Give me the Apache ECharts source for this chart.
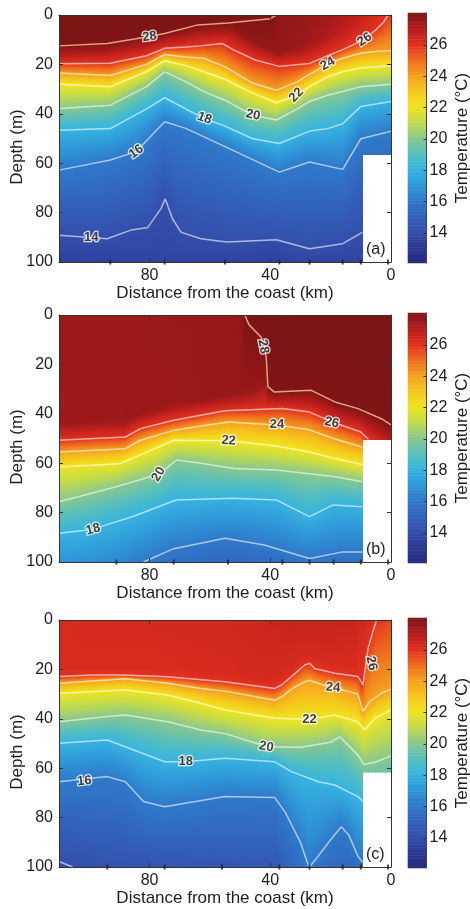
<!DOCTYPE html>
<html><head><meta charset="utf-8">
<script src="https://cdn.jsdelivr.net/npm/echarts@6/dist/echarts.min.js"></script>
<style>html,body{margin:0;padding:0;background:#fff}#c{width:470px;height:909px}</style>
</head><body><div id="c"></div>
<script>
// ================= DATA =================
const kmTicks = [0, 40, 80];
const depthTicksInterval = 20;
const colorbarTicks = [14, 16, 18, 20, 22, 24, 26];
const tempMin = 12.07, tempMax = 28.03;
const panelLetters = ['(a)', '(b)', '(c)'];

// ---- panel (a): isotherm depth profiles [distance km, depth m]
const iso28A = [[110,12.5],[94,11.5],[81,8.9],[75,7.5],[64,4],[54,3.2],[40,1.5],[38,0]];
const iso26A = [[110,19.7],[93,19.5],[81,16.5],[75,13.5],[68,13],[63,12.5],[56,11.5],[52,14.2],[45,18.2],[37,20.8],[27,19.6],[21,16.5],[16,14],[9,10],[5,6],[2.5,3],[1,0]];
const iso24A = [[110,23.5],[93,24.5],[81,20],[75,16],[68,17],[62,17.5],[55,21],[46,27.5],[38,30.5],[31,27],[27,24],[21,19.8],[16,17.5],[10,15.5],[5,14.8],[0,14.5]];
const iso22A = [[110,28],[93,29],[81,23],[75,18.5],[68,20.5],[62,23],[55,26],[46,31.5],[38,35.5],[31,32.5],[27,29],[21,25],[16,23],[10,21.5],[0,20.5]];
const iso20A = [[110,37.9],[93,36.5],[81,29],[75,23],[68,27],[62,31],[55,34.5],[46,40.5],[38,42.5],[31,38],[27,35],[21,32.5],[16,31],[10,29],[0,28]];
const iso18A = [[110,46.7],[93,46],[81,38],[75,33.5],[68,38],[62,41.8],[55,45],[46,50],[37,52],[27,47],[21,46],[16,44],[10,37],[0,35]];
const iso16A = [[110,62.8],[93,58.7],[84.4,55.3],[75,43.2],[68,45.9],[55,53.3],[37,63.6],[27,59.5],[16,62.5],[10,50.1],[1,47.4],[0,47]];
const iso14A = [[110,89.2],[94,90.6],[86,87],[80.6,86],[76.2,78.4],[74.8,74.4],[72.4,82.5],[69.6,87.9],[63,90.6],[54.4,91.9],[38,91],[27,94.6],[16,92.6],[9.5,88]];
const surfaceA = [[110,28.03],[38.5,28.03],[37.5,27.7],[30,27.6],[20,27.3],[10,26.8],[5,26.4],[1,26.0],[0,25.9]];
const mixedA = [[52,5,27.7],[45,11,27.65],[37,15,27.6],[30,13,27.5],[22,9,27.2],[16,6,26.9],[10,3,26.6]];
const bottomA = [[110,13.4],[93,13.4],[75,13.6],[55,13.4],[38,13.4],[27,13.5],[16,13.5],[9.5,13.6],[0,13.6]];
const stationsA = [93, 75, 55, 37, 27, 16, 10, 1];
const labelsA = [[80,8.8,28,8],[8.7,9.9,26,35],[21,19.8,24,30],[31.4,32.4,22,45],[45.7,40.5,20,-12],[61.8,41.8,18,-20],[84.4,55.3,16,35],[99.3,90.2,14,0]];
const noDataA = [9.5, 56.7];

// ---- panel (b)
const iso28B = [[48.5,0],[47,4],[43,9],[42,12.3],[41.3,17.7],[40.8,29],[38.6,31.2],[26.4,30.5],[18.6,35.2],[10.9,37.9],[3.2,42],[0,44.5]];
const iso26B = [[110,50.7],[88,49.4],[83,46],[72,42.6],[55,38.8],[36,37.9],[27,39.3],[19,43.5],[10,47.4],[7.5,50.3]];
const iso24B = [[110,55.5],[88,54.1],[83,50.7],[72,46.7],[54,43.3],[38,44.5],[27,46.5],[19,50],[9.5,53.5]];
const iso22B = [[110,61.5],[90,60.2],[82,56.1],[72,50.7],[54,50.9],[38,53],[27,55.5],[19,58],[9.5,60.5]];
const iso20B = [[110,75.6],[91,69.5],[77,64.5],[71,58.7],[63,60],[52,62.1],[38,62.8],[19,65.4],[9.5,67.5]];
const iso18B = [[110,88.4],[99,86.8],[85.5,81.6],[71.2,74.9],[52.4,74.2],[38,74.9],[27,81.6],[19.2,76.9],[9.5,77.6]];
const iso16B = [[82,100],[72,94.6],[55,90.4],[42,93.1],[27,98.6],[16.4,96],[9.5,96]];
const surfaceB = [[110,27.45],[60,27.55],[50,27.6],[48.5,28.0],[47,28.03],[0,28.03]];
const mixedB = [[110,44,27.45],[88,43,27.45],[83,40,27.5],[72,36,27.5],[55,33,27.55],[45,30,27.6],[41,27,27.6]];
const bottomB = [[110,17.0],[99,16.8],[90,16.5],[82,16.0],[72,15.5],[55,15.2],[42,15.3],[27,15.9],[16,15.6],[9.5,15.6],[0,20]];
const stationsB = [91, 72, 54, 36, 27, 19, 10, 1];
const labelsB = [[42.3,12.8,28,-80],[37.8,44.5,24,0],[19.6,43.6,26,-12],[53.8,50.9,22,-4],[77,64.5,20,60],[98.7,86.8,18,15]];
const noDataB = [9.5, 50.6];

// ---- panel (c)
const iso26C = [[110,22.9],[99,22.3],[88,22.3],[74,23],[55,25],[38.5,27.7],[36.3,26.3],[33,22.9],[28.6,18.2],[26.9,17.5],[25.3,19.6],[18.6,21.6],[10.9,22.9],[9.3,26.3],[8.7,21],[7.6,11.5],[6,4.7],[4.8,0]];
const iso24C = [[110,25.6],[88,23.8],[74,25.6],[63,27.7],[54,29],[38.5,32.5],[36,31],[33,28],[28.6,25],[26.9,24.5],[22,26.5],[18.6,27.4],[11,30],[9.3,37],[7,33],[3,29.5],[0,28]];
const iso22C = [[110,29.7],[99,29],[88,28.3],[74,30.4],[63,33.7],[55,36.4],[38.5,39.8],[27,40.3],[18.6,38.5],[11,41.2],[8.7,44.5],[5.4,39.8],[1,37],[0,36.5]];
const iso20C = [[110,41.2],[94,39.1],[88,38.5],[74,41.2],[63,44.5],[55,46],[41,51.3],[30,51.5],[20,49.5],[17,47.3],[11,54.6],[9,58.5],[5,57.5],[0,55]];
const iso18C = [[110,49.9],[94,48.6],[88,51.3],[75,57.4],[68,57.4],[55,56],[38.5,57.4],[33,61.4],[24,65.5],[18.6,66.8],[11,71.5],[9.3,73.5]];
const iso16C = [[110,65.5],[94,63.4],[88,65.5],[82,73.5],[75,75.6],[55,71.5],[38.5,71.9],[35,78],[30,90],[27.5,99],[27,100],[25,97],[20,89],[16.5,83.7],[14,87],[11,95.5],[9.5,98]];
const iso14C = [[110,97.8],[105.5,100]];
const surfaceC = [[110,26.3],[80,26.35],[55,26.4],[40,26.55],[30,26.65],[20,26.65],[12,26.55],[8,26.4],[4.8,26.0],[0,25.7]];
const mixedC = [[110,19,26.25],[88,19,26.25],[74,19.5,26.25],[55,21.5,26.3],[40,24,26.35],[36,22,26.35],[30,15,26.35],[27,14,26.35],[22,16,26.35],[15,18,26.3],[11,19,26.3]];
const bottomC = [[110,13.9],[105,14.0],[95,14.2],[75,14.3],[55,14.4],[38,14.5],[30,15.5],[27,16.0],[22,15.5],[17,15.2],[12,15.2],[9.5,15.3],[0,15.3]];
const stationsC = [94, 75, 56, 37, 27, 16, 10, 1];
const labelsC = [[101.6,65.2,16,5],[68,57.4,18,0],[41.3,51.3,20,-10],[27,40.3,22,0],[19.2,27.4,24,-5],[6.5,17.5,26,-78]];
const noDataC = [9.5, 61.7];

const jetColors = ['#25297b','#2c3a95','#3350ad','#3264bd','#2f7bcb','#2f98d8','#37b4e0','#58bfbb','#8bc98a','#c2da4c','#f0e41e','#f6c51c','#f4a01d','#ef6b1e','#e2301f','#b51c1c','#7d1515'];

// ================= BUILD =================
const panels = [
  {iso: [[28,iso28A],[26,iso26A],[24,iso24A],[22,iso22A],[20,iso20A],[18,iso18A],[16,iso16A],[14,iso14A]], surface: surfaceA, mixed: mixedA, bottom: bottomA, stations: stationsA, labels: labelsA, noData: noDataA},
  {iso: [[28,iso28B],[26,iso26B],[24,iso24B],[22,iso22B],[20,iso20B],[18,iso18B],[16,iso16B]], surface: surfaceB, mixed: mixedB, bottom: bottomB, stations: stationsB, labels: labelsB, noData: noDataB},
  {iso: [[26,iso26C],[24,iso24C],[22,iso22C],[20,iso20C],[18,iso18C],[16,iso16C],[14,iso14C]], surface: surfaceC, mixed: mixedC, bottom: bottomC, stations: stationsC, labels: labelsC, noData: noDataC}
];

function interp(pts, x, k) {
  let lo = Infinity, hi = -Infinity;
  for (const p of pts) { lo = Math.min(lo, p[0]); hi = Math.max(hi, p[0]); }
  if (x < lo || x > hi) return null;
  for (let i = 0; i < pts.length - 1; i++) {
    const a = pts[i], b = pts[i + 1];
    const mn = Math.min(a[0], b[0]), mx = Math.max(a[0], b[0]);
    if (x >= mn && x <= mx) {
      if (mx === mn) return a[k];
      return a[k] + (x - a[0]) / (b[0] - a[0]) * (b[k] - a[k]);
    }
  }
  return pts.length === 1 ? pts[0][k] : null;
}
function profile(P, x) {
  const pts = [[0, interp(P.surface, x, 1)]];
  const isoPts = [];
  P.iso.forEach(([lev, line]) => { const d = interp(line, x, 1); if (d !== null) isoPts.push([d, lev]); });
  pts.push(...isoPts);
  const md = interp(P.mixed, x, 1), mt = interp(P.mixed, x, 2);
  if (md !== null) {
    const ok = isoPts.every(([d, l]) => d < md ? l >= mt : l <= mt);
    if (ok) pts.push([md, mt]);
  }
  pts.push([100, interp(P.bottom, x, 1)]);
  pts.sort((a, b) => a[0] - b[0]);
  return pts;
}
function tempAt(pts, d) {
  if (d <= pts[0][0]) return pts[0][1];
  for (let i = 0; i < pts.length - 1; i++) {
    const a = pts[i], b = pts[i + 1];
    if (d >= a[0] && d <= b[0]) {
      if (b[0] === a[0]) return b[1];
      return a[1] + (d - a[0]) / (b[0] - a[0]) * (b[1] - a[1]);
    }
  }
  return pts[pts.length - 1][1];
}

// colour scale (same stops as the visualMap of the colorbar)
const jetRGB = jetColors.map(h => [1, 3, 5].map(o => parseInt(h.slice(o, o + 2), 16)));
const nodeTemps = jetRGB.map((_, k) => tempMin + k * (tempMax - tempMin) / (jetRGB.length - 1));
function colorOf(T) {
  let f = (T - tempMin) / (tempMax - tempMin) * (jetRGB.length - 1);
  f = Math.max(0, Math.min(jetRGB.length - 1, f));
  const k = Math.min(Math.floor(f), jetRGB.length - 2), t = f - k;
  const a = jetRGB[k], b = jetRGB[k + 1];
  return 'rgb(' + a.map((v, c) => Math.round(v + (b[c] - v) * t)).join(',') + ')';
}
function columnStops(prof, bottomDepth) {
  const pts = prof.filter(p => p[0] <= bottomDepth);
  if (pts[pts.length - 1][0] < bottomDepth) pts.push([bottomDepth, tempAt(prof, bottomDepth)]);
  const st = [];
  for (let i = 0; i < pts.length; i++) {
    const [d, T] = pts[i];
    st.push([d, T, i]);
    if (i < pts.length - 1) {
      const [d2, T2] = pts[i + 1];
      if (d2 > d) nodeTemps.forEach(n => {
        if ((n - T) * (n - T2) < 0) st.push([d + (n - T) / (T2 - T) * (d2 - d), n, i + 0.5]);
      });
    }
  }
  st.sort((a, b) => a[0] - b[0] || a[2] - b[2]);
  return st.map(([d, T]) => ({offset: Math.min(1, Math.max(0, d / bottomDepth)), color: colorOf(T)}));
}

const colStep = 0.5;
const xCenters = []; for (let i = 0; i < 220; i++) xCenters.push(109.75 - i * colStep);
const cbLevels = []; for (let t = tempMin; t <= tempMax + 1e-9; t += 0.1) cbLevels.push(+t.toFixed(2));

const FONT = 'Liberation Sans, Arial, Helvetica, sans-serif';
const INK = '#1e1e1e';
const plotLeft = 59, plotW = 332, plotH = 247;
const plotTops = [15, 315, 620];
const cbLeft = 408, cbW = 18.5, cbH = 250;

const grid = [], xAxis = [], yAxis = [], series = [], graphic = [];
const cbIdx = [];
const frameAxis = (extra) => Object.assign({
  z: 10, axisLine: {show: true, onZero: false, lineStyle: {color: '#333', width: 1}},
  axisTick: {show: true, inside: true, length: 4, lineStyle: {color: '#333'}},
  splitLine: {show: false}
}, extra);

panels.forEach((P, p) => {
  const top = plotTops[p];
  const gV = grid.length; grid.push({left: plotLeft, top: top, width: plotW, height: plotH, containLabel: false, outerBoundsMode: 'none'});
  const gC = grid.length; grid.push({left: cbLeft, top: top - 2, width: cbW, height: cbH, containLabel: false, outerBoundsMode: 'none'});

  const xV = xAxis.length;
  xAxis.push(frameAxis({type: 'value', gridIndex: gV, min: 0, max: 110, inverse: true, position: 'bottom',
    name: 'Distance from the coast (km)', nameLocation: 'middle', nameGap: 22,
    nameTextStyle: {fontFamily: FONT, fontSize: 17, color: INK},
    axisTick: {show: true, inside: true, length: 4, customValues: kmTicks, lineStyle: {color: '#333'}},
    axisLabel: {customValues: kmTicks, fontFamily: FONT, fontSize: 16, color: INK, margin: 6}}));
  xAxis.push(frameAxis({type: 'value', gridIndex: gV, min: 0, max: 110, inverse: true, position: 'top',
    axisTick: {show: true, inside: true, length: 4, customValues: kmTicks, lineStyle: {color: '#333'}},
    axisLabel: {show: false}}));
  const yV = yAxis.length;
  yAxis.push(frameAxis({type: 'value', gridIndex: gV, min: 0, max: 100, interval: depthTicksInterval, inverse: true, position: 'left',
    axisLabel: {fontFamily: FONT, fontSize: 16, color: INK, margin: 6}}));
  yAxis.push(frameAxis({type: 'value', gridIndex: gV, min: 0, max: 100, interval: depthTicksInterval, inverse: true, position: 'right',
    axisLabel: {show: false}}));

  const xC = xAxis.length; xAxis.push({type: 'category', gridIndex: gC, data: [0], show: false});
  const yC = yAxis.length; yAxis.push({type: 'category', gridIndex: gC, data: cbLevels, show: false, position: 'left'});
  yAxis.push({type: 'value', gridIndex: gC, min: tempMin, max: tempMax, position: 'right', z: 10,
    name: 'Temperature (°C)', nameLocation: 'middle', nameGap: 27, nameRotate: 90,
    nameTextStyle: {fontFamily: FONT, fontSize: 17, color: INK},
    axisLine: {show: true, lineStyle: {color: '#444', width: 1}},
    axisTick: {show: true, inside: true, length: 3, customValues: colorbarTicks, lineStyle: {color: '#333'}},
    axisLabel: {customValues: colorbarTicks, fontFamily: FONT, fontSize: 16, color: INK, margin: 3},
    splitLine: {show: false}});

  // temperature field: one column per 0.5 km, shaded through its vertical profile
  const cols = xCenters.map(x => {
    const bottom = x < P.noData[0] ? P.noData[1] : 100;
    return {km: x, bottom, stops: columnStops(profile(P, x), bottom)};
  });
  series.push({type: 'custom', coordinateSystem: 'cartesian2d', xAxisIndex: xV, yAxisIndex: yV, z: 1, silent: true,
    data: cols.map(c => [c.km, c.bottom]),
    renderItem: (params, api) => {
      const c = cols[params.dataIndex];
      const a = api.coord([c.km + colStep / 2, 0]);
      const b = api.coord([c.km - colStep / 2, c.bottom]);
      const x0 = Math.floor(Math.min(a[0], b[0])), x1 = Math.ceil(Math.max(a[0], b[0]));
      return {type: 'rect',
        shape: {x: x0, y: a[1], width: x1 - x0, height: b[1] - a[1]},
        style: {fill: new echarts.graphic.LinearGradient(0, 0, 0, 1, c.stops)}};
    }});

  // colorbar
  cbIdx.push(series.length);
  series.push({type: 'heatmap', xAxisIndex: xC, yAxisIndex: yC, data: cbLevels.map((t, k) => [0, k, t]), z: 1,
    progressive: 0, silent: true, itemStyle: {borderWidth: 0}, emphasis: {disabled: true}});

  // contour lines
  P.iso.forEach(([lev, line]) => {
    series.push({type: 'line', xAxisIndex: xV, yAxisIndex: yV, data: line, showSymbol: false, symbol: 'none', silent: true, z: 3,
      lineStyle: {color: lev === 28 ? 'rgba(236,180,140,0.9)' : 'rgba(255,255,255,0.6)', width: 1.5}});
  });

  // contour labels
  series.push({type: 'scatter', xAxisIndex: xV, yAxisIndex: yV, z: 6, silent: true, symbolSize: 1,
    itemStyle: {color: 'rgba(0,0,0,0)'},
    data: P.labels.map(l => ({value: [l[0], l[1], l[2]], label: {rotate: l[3]}})),
    label: {show: true, position: 'inside', formatter: q => String(q.value[2]), fontFamily: FONT, fontSize: 13, fontWeight: 'bold',
      color: '#111', textBorderColor: '#fff', textBorderWidth: 2.5}});

  // station marks on the bottom axis
  series.push({type: 'scatter', xAxisIndex: xV, yAxisIndex: yV, z: 11, silent: true, symbol: 'rect', symbolSize: [2, 5],
    itemStyle: {color: '#222'}, data: P.stations.map(s => [s, 100]), clip: false});

  // y-axis title and panel letter
  graphic.push({type: 'text', x: 17, y: top + 132, rotation: Math.PI / 2, z: 20,
    style: {text: 'Depth (m)', font: '17px ' + FONT, fill: INK, align: 'center', verticalAlign: 'middle'}});
  graphic.push({type: 'text', left: 366, top: top + plotH - 20, z: 20,
    style: {text: panelLetters[p], font: '16px ' + FONT, fill: INK}});
});

const chart = echarts.init(document.getElementById('c'), null, {renderer: 'canvas'});
chart.setOption({
  animation: false,
  backgroundColor: '#fff',
  grid, xAxis, yAxis, series, graphic,
  visualMap: {type: 'continuous', show: false, min: tempMin, max: tempMax, dimension: 2, seriesIndex: cbIdx,
    inRange: {color: jetColors}}
});
</script></body></html>
